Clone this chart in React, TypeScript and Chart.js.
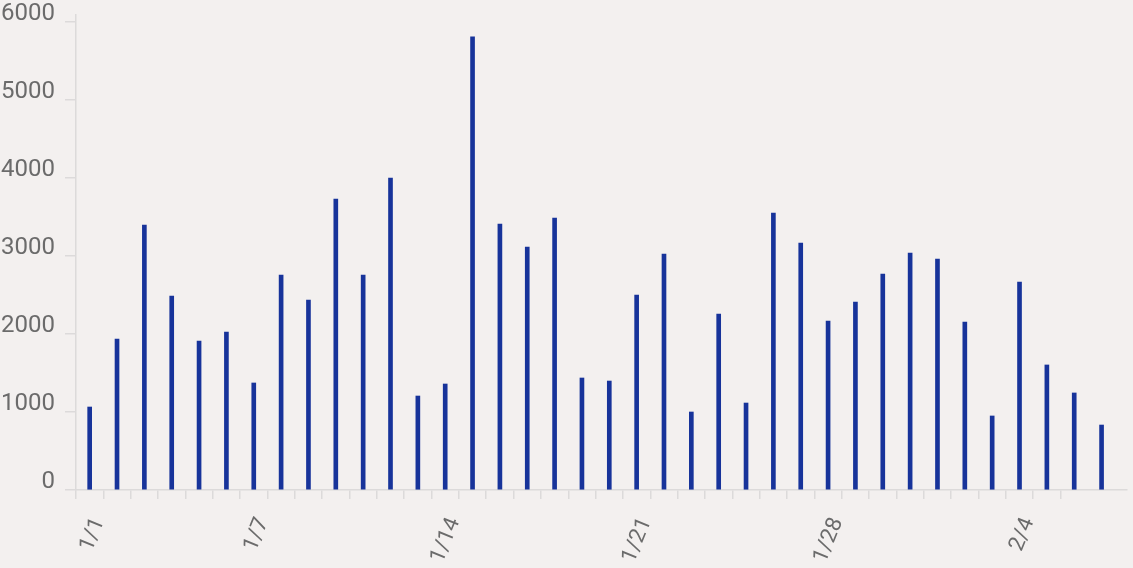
import React, { useEffect, useRef } from 'react';
import { Chart, registerables } from 'chart.js';

Chart.register(...registerables);

const dates = [
  '1/1', '1/2', '1/3', '1/4', '1/5', '1/6', '1/7', '1/8', '1/9', '1/10',
  '1/11', '1/12', '1/13', '1/14', '1/15', '1/16', '1/17', '1/18', '1/19', '1/20',
  '1/21', '1/22', '1/23', '1/24', '1/25', '1/26', '1/27', '1/28', '1/29', '1/30',
  '1/31', '2/1', '2/2', '2/3', '2/4', '2/5', '2/6', '2/7',
];

const values = [
  1064, 1936, 3397, 2487, 1910, 2026, 1372, 2756, 2436, 3731,
  2756, 4000, 1205, 1359, 5810, 3410, 3115, 3487, 1436, 1397,
  2500, 3026, 1000, 2256, 1115, 3551, 3167, 2167, 2410, 2769,
  3038, 2962, 2154, 949, 2667, 1603, 1244, 833,
];

const shownLabels = ['1/1', '1/7', '1/14', '1/21', '1/28', '2/4'];
const yTickValues = [0, 1000, 2000, 3000, 4000, 5000, 6000];

const BG = '#f3f0ef';
const BAR = '#17339a';
const TEXT = '#6b6b6b';
const AXIS = '#dcdada';

export default function App() {
  const ref = useRef<HTMLCanvasElement | null>(null);

  useEffect(() => {
    document.body.style.margin = '0';
    document.body.style.background = BG;
    const canvas = ref.current;
    if (!canvas) return;

    const bgPlugin = {
      id: 'bg',
      beforeDraw(chart: any) {
        const { ctx, width, height } = chart;
        ctx.save();
        ctx.fillStyle = BG;
        ctx.fillRect(0, 0, width, height);
        ctx.restore();
      },
    };

    const chart = new Chart(canvas, {
      type: 'bar',
      data: {
        datasets: [
          {
            data: values.map((v, i) => ({ x: i, y: v })),
            backgroundColor: BAR,
            borderWidth: 0,
            barThickness: 4,
          },
        ],
      },
      options: {
        responsive: false,
        animation: false,
        layout: { padding: { top: 15, right: 6, left: 0, bottom: 0 } },
        plugins: {
          legend: { display: false },
          tooltip: { enabled: false },
        },
        scales: {
          x: {
            type: 'linear',
            min: -0.5,
            max: 37.93,
            offset: false,
            grid: {
              offset: false,
              drawOnChartArea: false,
              drawTicks: true,
              tickLength: 9,
              color: AXIS,
              lineWidth: 1.5,
            },
            border: { display: true, color: AXIS, width: 1.5 },
            afterBuildTicks: (scale: any) => {
              const t = [];
              for (let i = 0; i < dates.length - 1; i++) t.push({ value: i - 0.5 });
              scale.ticks = t;
            },
            afterFit: (scale: any) => {
              scale.height = 78;
              scale.paddingLeft = 0;
              scale.paddingRight = 0;
            },
            ticks: {
              autoSkip: false,
              minRotation: 68,
              maxRotation: 68,
              labelOffset: 23,
              padding: 15,
              color: TEXT,
              font: { family: 'Roboto', size: 22, weight: '400' },
              callback: (v: any) => {
                const idx = Math.round(Number(v) + 0.5);
                const lab = dates[idx];
                return shownLabels.includes(lab) ? lab : '';
              },
            },
          },
          y: {
            min: 0,
            max: 6090,
            grid: {
              drawOnChartArea: false,
              drawTicks: true,
              tickLength: 11,
              color: AXIS,
              lineWidth: 1.5,
            },
            border: { display: true, color: AXIS, width: 1.5 },
            afterBuildTicks: (scale: any) => {
              scale.ticks = yTickValues.map((v) => ({ value: v }));
            },
            afterFit: (scale: any) => {
              scale.width = 76;
              scale.paddingTop = 0;
              scale.paddingBottom = 0;
            },
            ticks: {
              padding: 10,
              labelOffset: -8,
              color: TEXT,
              font: { family: 'Roboto', size: 24, weight: '400' },
              callback: (v: any) => String(v),
            },
          },
        },
      },
      plugins: [bgPlugin],
    } as any);

    return () => chart.destroy();
  }, []);

  return <canvas ref={ref} width={1133} height={568} style={{ display: 'block' }} />;
}
